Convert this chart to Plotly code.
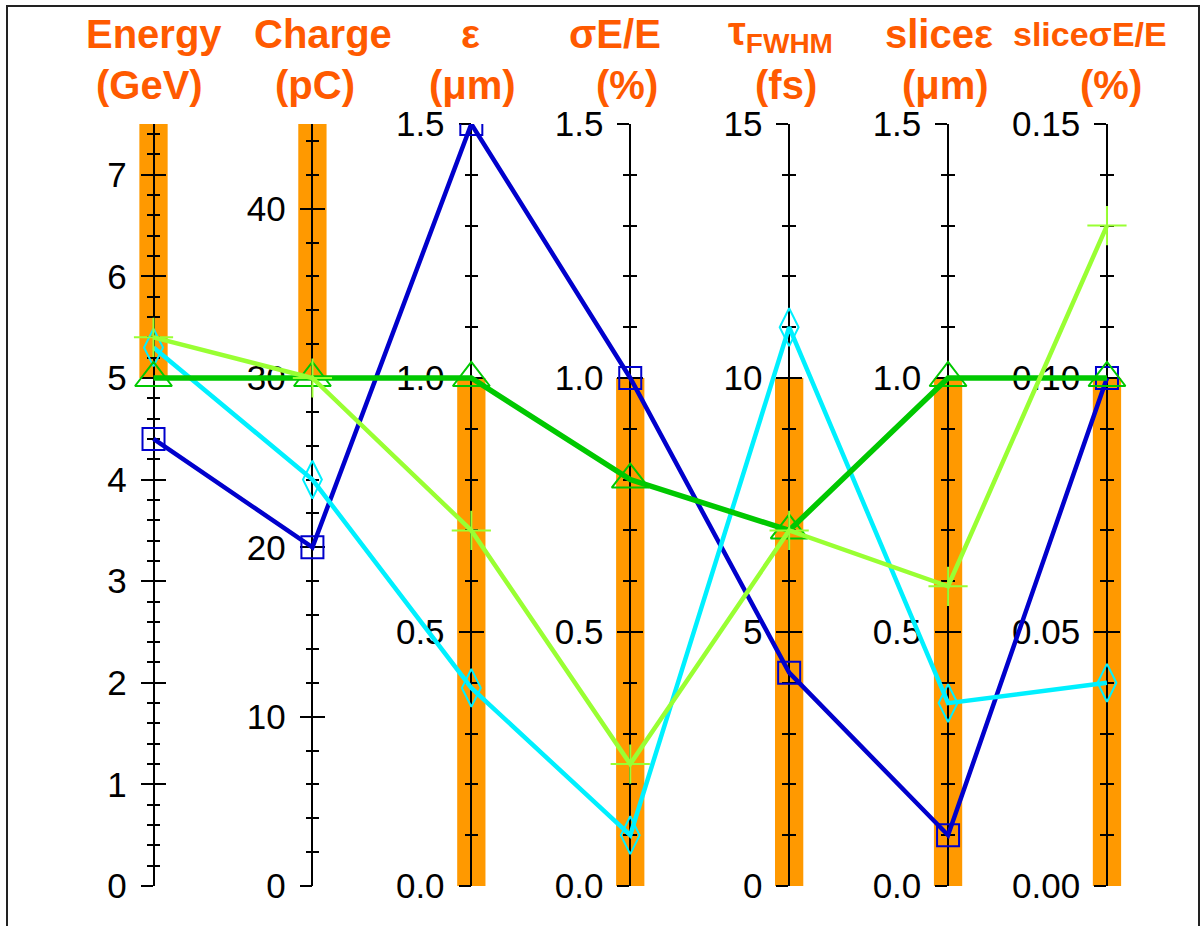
import plotly.graph_objects as go

# ---------------- data ----------------
title_line1 = ["Energy", "Charge", "ε", "σE/E", "τ<sub>FWHM</sub>", "sliceε", "sliceσE/E"]
title_line2 = ["(GeV)", "(pC)", "(μm)", "(%)", "(fs)", "(μm)", "(%)"]
axis_max = [7.5, 45, 1.5, 1.5, 15, 1.5, 0.15]
major_ticks = [
    [0, 1, 2, 3, 4, 5, 6, 7],
    [0, 10, 20, 30, 40],
    [0, 0.5, 1.0, 1.5],
    [0, 0.5, 1.0, 1.5],
    [0, 5, 10, 15],
    [0, 0.5, 1.0, 1.5],
    [0, 0.05, 0.10, 0.15],
]
major_labels = [
    ["0", "1", "2", "3", "4", "5", "6", "7"],
    ["0", "10", "20", "30", "40"],
    ["0.0", "0.5", "1.0", "1.5"],
    ["0.0", "0.5", "1.0", "1.5"],
    ["0", "5", "10", "15"],
    ["0.0", "0.5", "1.0", "1.5"],
    ["0.00", "0.05", "0.10", "0.15"],
]
minor_step = [0.2, 2, 0.1, 0.1, 1, 0.1, 0.01]
band_low = [5.0, 30, 0.0, 0.0, 0, 0.0, 0.00]
band_high = [7.5, 45, 1.0, 1.0, 10, 1.0, 0.10]

series_blue = [4.4, 20, 1.5, 1.0, 4.2, 0.10, 0.10]
series_cyan = [5.3, 24, 0.39, 0.10, 11.0, 0.36, 0.040]
series_lightgreen = [5.4, 30, 0.70, 0.24, 7.0, 0.59, 0.130]
series_green = [5.0, 30, 1.0, 0.80, 7.0, 1.0, 0.100]

# ---------------- layout constants ----------------
W, H = 1202, 926
XMIN, XMAX = -0.966, 6.598
Y_DOM = [(H - 886) / H, (H - 124) / H]
BAND_HALF = 0.089
n_ax = len(axis_max)
idx = list(range(n_ax))


def norm(vals):
    return [v / m for v, m in zip(vals, axis_max)]


def xpos(i):
    return (i - XMIN) / (XMAX - XMIN)


fig = go.Figure()

# invisible anchor traces so that every parallel axis gets drawn
for k in range(n_ax):
    for j in (0, 1):
        fig.add_trace(go.Scatter(
            x=[k], y=[0], yaxis=f"y{2 + 2 * k + j}", mode="markers",
            marker=dict(opacity=0, size=1), hoverinfo="skip", showlegend=False,
        ))

series = [
    ("A", series_blue, "#0000CC", "square-open", 22, 4.5),
    ("B", series_cyan, "#00F0FF", "diamond-tall-open", 27, 4.5),
    ("D", series_green, "#00C800", "triangle-up-open", 32, 5.5),
    ("C", series_lightgreen, "#99FF33", "cross-thin-open", 28, 4.5),
]
for name, vals, col, sym, sz, lw in series:
    fig.add_trace(go.Scatter(
        x=idx, y=norm(vals), mode="lines+markers", name=name,
        line=dict(color=col, width=lw),
        marker=dict(symbol=sym, size=sz, color=col, line=dict(color=col, width=2)),
        showlegend=False,
    ))

layout = dict(
    width=W, height=H,
    margin=dict(l=0, r=0, t=0, b=0, autoexpand=False),
    paper_bgcolor="white", plot_bgcolor="white",
    showlegend=False,
    xaxis=dict(range=[XMIN, XMAX], visible=False, domain=[0, 1], automargin=False),
    yaxis=dict(range=[0, 1], domain=Y_DOM, visible=False, automargin=False),
    font=dict(family="Liberation Sans, Arial, sans-serif", color="black"),
)

n = 2
for k in range(n_ax):
    common = dict(
        domain=Y_DOM, range=[0, axis_max[k]], anchor="free", overlaying="y",
        position=xpos(k), side="left", showline=True, linecolor="black",
        linewidth=1.5, showgrid=False, zeroline=False, automargin=False,
        tickmode="array", tickvals=major_ticks[k], ticktext=major_labels[k],
        tickwidth=1.5, tickcolor="black", ticklen=12, layer="below traces",
    )
    layout[f"yaxis{n}"] = dict(
        common, ticks="outside", showticklabels=True,
        tickfont=dict(size=35, color="black", family="Liberation Sans, Arial"),
        ticklabelstandoff=7,
        minor=dict(dtick=minor_step[k], tick0=0, ticks="outside", ticklen=6,
                   tickwidth=1.5, tickcolor="black", showgrid=False),
    )
    layout[f"yaxis{n + 1}"] = dict(
        common, ticks="inside", showticklabels=False,
        minor=dict(dtick=minor_step[k], tick0=0, ticks="inside", ticklen=6,
                   tickwidth=1.5, tickcolor="black", showgrid=False),
    )
    n += 2

fig.update_layout(**layout)

# orange bands, drawn beneath the axes through the data scales
for k in range(n_ax):
    fig.add_shape(type="rect", xref="x", yref="y",
                  x0=k - BAND_HALF, x1=k + BAND_HALF,
                  y0=band_low[k] / axis_max[k], y1=band_high[k] / axis_max[k],
                  fillcolor="#FF9900", line=dict(width=0), layer="below")

# titles (two lines each)
line1_center = [154, 323, 470, 615, 780, 939, 1090]
line2_center = [149, 315, 472, 627, 786, 945, 1111]
line1_size = [40, 40, 40, 40, 40, 40, 34]
annotations = []
for k in range(n_ax):
    annotations.append(dict(
        text=f"<b>{title_line1[k]}</b>", xref="paper", yref="paper",
        x=line1_center[k] / W, y=1 - 34 / H, xanchor="center", yanchor="middle",
        showarrow=False,
        font=dict(family="Liberation Sans, Arial", size=line1_size[k], color="#FF5A00"),
    ))
    annotations.append(dict(
        text=f"<b>{title_line2[k]}</b>", xref="paper", yref="paper",
        x=line2_center[k] / W, y=1 - 85 / H, xanchor="center", yanchor="middle",
        showarrow=False,
        font=dict(family="Liberation Sans, Arial", size=40, color="#FF5A00"),
    ))
fig.update_layout(annotations=annotations)

# frame
fig.add_shape(type="rect", xref="paper", yref="paper",
              x0=7 / W, x1=1199 / W, y0=-0.02, y1=1 - 6 / H,
              line=dict(color="#222222", width=2), layer="above")

fig.write_html("out.html")
